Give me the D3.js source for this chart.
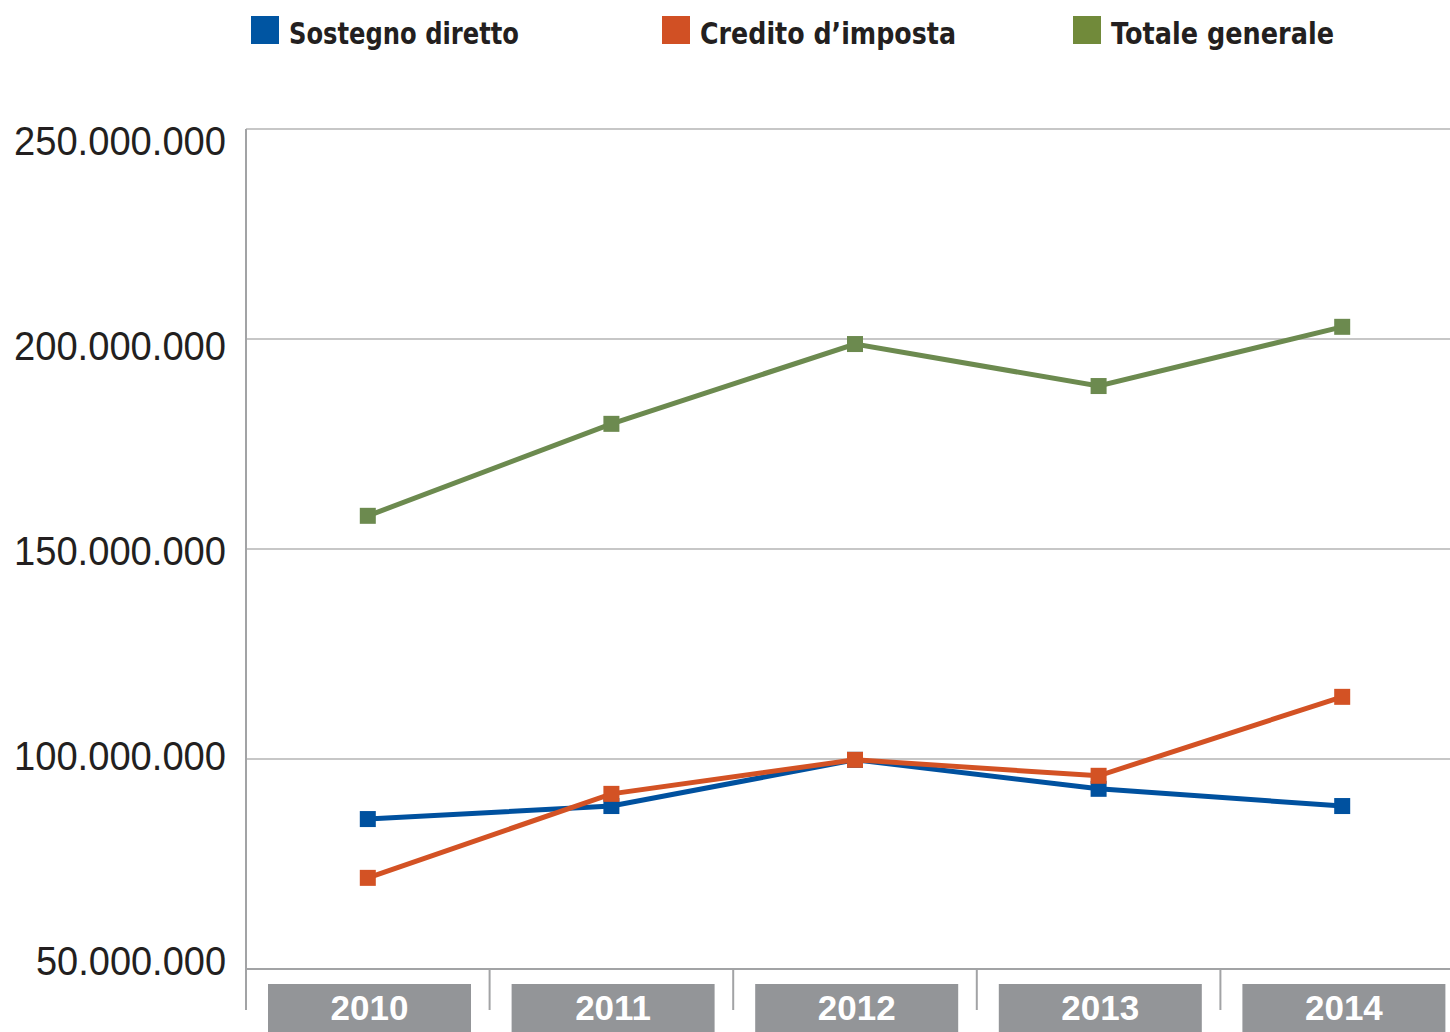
<!DOCTYPE html>
<html>
<head>
<meta charset="utf-8">
<script src="https://cdn.jsdelivr.net/npm/d3@7"></script>
<style>
  html, body { margin: 0; padding: 0; background: #ffffff; overflow: hidden; }
  svg { display: block; }
</style>
</head>
<body>
<svg id="chart" width="1450" height="1032"></svg>
<script>
// ---- data ----
const years = ["2010", "2011", "2012", "2013", "2014"];
const sostegnoDiretto = [85.7e6, 88.8e6, 99.8e6, 92.9e6, 88.8e6];
const creditoImposta = [71.7e6, 91.7e6, 99.8e6, 96.0e6, 114.8e6];
const totaleGenerale = [157.9e6, 179.8e6, 198.8e6, 188.8e6, 202.9e6];
const yTicks = [50e6, 100e6, 150e6, 200e6, 250e6];
const seriesNames = ["Sostegno diretto", "Credito d\u2019imposta", "Totale generale"];
const lineColors = ["#00519f", "#d35224", "#6c8a4f"];
const legendColors = ["#0055a2", "#d15024", "#718a3a"];

(function () {
const svg = d3.select("#chart");
const plotLeft = 246, plotRight = 1464, plotTop = 129, plotBottom = 969;

const x = d3.scaleBand().domain(years).range([plotLeft, plotRight]).padding(0);
const y = d3.scaleLinear().domain([50e6, 250e6]).range([plotBottom, plotTop]);
const yLabel = d3.scaleLinear().domain([50e6, 250e6]).range([961, 141]);

const fmt = v => d3.format(",")(v).replace(/,/g, ".");

// gridlines
svg.append("g").selectAll("line").data(yTicks.filter(t => t > 50e6)).join("line")
  .attr("x1", plotLeft).attr("x2", 1450)
  .attr("y1", d => y(d)).attr("y2", d => y(d))
  .attr("stroke", "#b4b4b4").attr("stroke-width", 1.6);

// baseline
svg.append("line").attr("x1", plotLeft).attr("x2", 1450)
  .attr("y1", y(50e6)).attr("y2", y(50e6))
  .attr("stroke", "#a2a3a5").attr("stroke-width", 2.2);

// left axis line
svg.append("line").attr("x1", plotLeft).attr("x2", plotLeft)
  .attr("y1", y(250e6)).attr("y2", 1010)
  .attr("stroke", "#a2a3a5").attr("stroke-width", 2);

// band ticks
svg.append("g").selectAll("line").data(years.slice(1)).join("line")
  .attr("x1", d => x(d)).attr("x2", d => x(d))
  .attr("y1", y(50e6)).attr("y2", 1010)
  .attr("stroke", "#a2a3a5").attr("stroke-width", 2);

// y labels
svg.append("g").selectAll("text").data(yTicks).join("text")
  .attr("x", 226).attr("y", d => yLabel(d))
  .attr("dy", "0.36em")
  .attr("text-anchor", "end")
  .attr("font-family", "'Liberation Sans', Arial, sans-serif")
  .attr("font-size", 40)
  .attr("fill", "#231f20")
  .attr("textLength", d => d >= 100e6 ? 212 : 190)
  .attr("lengthAdjust", "spacingAndGlyphs")
  .text(d => fmt(d));

// category boxes
const boxInset = 22, boxW = 203;
const cats = svg.append("g").selectAll("g").data(years).join("g");
cats.append("rect")
  .attr("x", d => x(d) + boxInset).attr("y", 984)
  .attr("width", boxW).attr("height", 60)
  .attr("fill", "#939598");
cats.append("text")
  .attr("x", d => x(d) + boxInset + boxW / 2).attr("y", 1020)
  .attr("text-anchor", "middle")
  .attr("font-family", "'Liberation Sans', Arial, sans-serif")
  .attr("font-weight", "bold")
  .attr("font-size", 35)
  .attr("fill", "#ffffff")
  .text(d => d);

// lines
const allSeries = [sostegnoDiretto, creditoImposta, totaleGenerale];
const line = d3.line().x((d, i) => x(years[i]) + x.bandwidth() / 2).y(d => y(d));
const drawOrder = [2, 0, 1];
drawOrder.forEach(si => {
  const vals = allSeries[si];
  const g = svg.append("g");
  g.append("path").datum(vals)
    .attr("d", line)
    .attr("fill", "none")
    .attr("stroke", lineColors[si])
    .attr("stroke-width", 5);
  g.selectAll("rect").data(vals).join("rect")
    .attr("x", (d, i) => x(years[i]) + x.bandwidth() / 2 - 8)
    .attr("y", d => y(d) - 8)
    .attr("width", 16).attr("height", 16)
    .attr("fill", lineColors[si]);
});

// legend
const legendX = [251, 662, 1073];
const legendW = [230, 256, 223];
const lg = svg.append("g").selectAll("g").data(seriesNames).join("g")
  .attr("transform", (d, i) => `translate(${legendX[i]},0)`);
lg.append("rect").attr("x", 0).attr("y", 16).attr("width", 28).attr("height", 28)
  .attr("fill", (d, i) => legendColors[i]);
lg.append("text")
  .attr("x", 38).attr("y", 44)
  .attr("font-family", "'DejaVu Sans', sans-serif")
  .attr("font-weight", "bold")
  .attr("font-size", 30)
  .attr("fill", "#231f20")
  .attr("textLength", (d, i) => legendW[i])
  .attr("lengthAdjust", "spacingAndGlyphs")
  .text(d => d);
})();
</script>
</body>
</html>
